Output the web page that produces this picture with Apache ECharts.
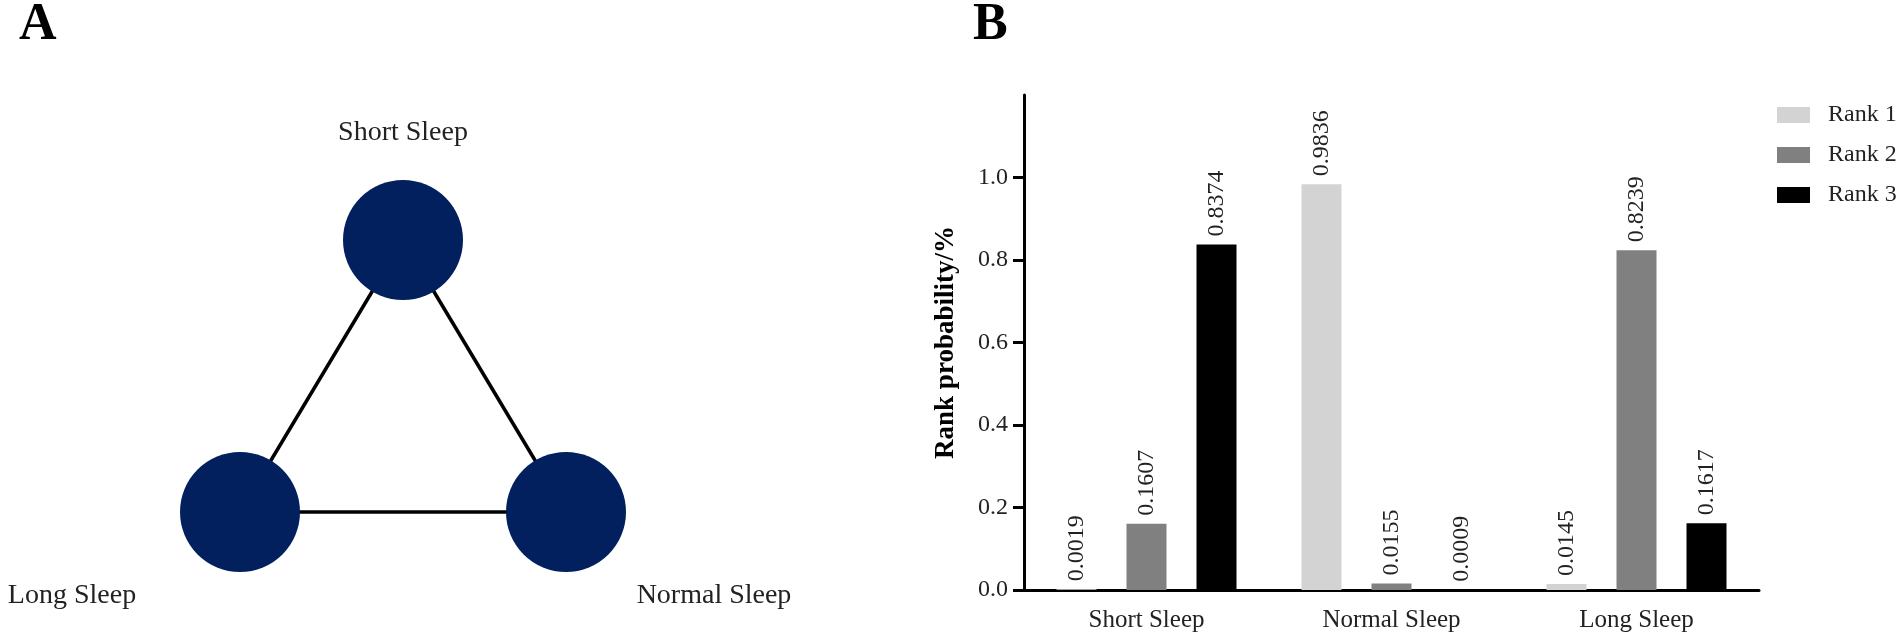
<!DOCTYPE html>
<html lang="en">
<head>
<meta charset="UTF-8">
<title>Rank probability</title>
<script src="https://cdn.jsdelivr.net/npm/echarts@6/dist/echarts.min.js"></script>
<style>
    html, body { margin: 0; padding: 0; background: #fff; }
    #chart { width: 1901px; height: 644px; }
</style>
</head>
<body>
<div id="chart"></div>
<script>
// panel A: network nodes (abstract layout units) and edges
const nodeNames = ['Short Sleep', 'Long Sleep', 'Normal Sleep'];
const nodeX = [1, 0, 2];
const nodeY = [1, 0, 0];
const edges = [[0, 1], [0, 2], [1, 2]];

// panel B: rank probabilities
const categories = ['Short Sleep', 'Normal Sleep', 'Long Sleep'];
const rankNames = ['Rank 1', 'Rank 2', 'Rank 3'];
const rank1 = [0.0019, 0.9836, 0.0145];
const rank2 = [0.1607, 0.0155, 0.8239];
const rank3 = [0.8374, 0.0009, 0.1617];
const yTicks = [0, 0.2, 0.4, 0.6, 0.8, 1.0];

const font = 'Liberation Serif';
const ink = '#222';
const rankColors = ['#d3d3d3', '#808080', '#000000'];

// label placement per node
const nodeLabels = [
    { position: 'top', distance: 33 },
    { position: 'inside', offset: [-168, 84] },
    { position: 'inside', offset: [148, 84] }
];

var chart = echarts.init(document.getElementById('chart'));

var barSeries = [rank1, rank2, rank3].map(function (vals, i) {
    return {
        name: rankNames[i],
        type: 'bar',
        xAxisIndex: 1,
        yAxisIndex: 1,
        data: vals,
        barWidth: 40,
        barGap: '75%',
        itemStyle: { color: rankColors[i] },
        label: {
            show: true,
            position: 'top',
            rotate: 90,
            align: 'left',
            verticalAlign: 'middle',
            distance: 8,
            fontFamily: font,
            fontSize: 24,
            color: ink,
            formatter: function (p) { return p.value.toFixed(4); }
        }
    };
});

var option = {
    animation: false,
    backgroundColor: '#fff',
    title: [
        { text: 'A', left: 19, top: 0, padding: 0,
          textStyle: { fontFamily: font, fontSize: 52, fontWeight: 'bold', color: '#000' } },
        { text: 'B', left: 973, top: 0, padding: 0,
          textStyle: { fontFamily: font, fontSize: 52, fontWeight: 'bold', color: '#000' } }
    ],
    legend: {
        data: rankNames,
        orient: 'vertical',
        left: 1772,
        top: 98,
        icon: 'rect',
        itemWidth: 33,
        itemHeight: 16,
        itemGap: 16,
        textStyle: { fontFamily: font, fontSize: 24, color: ink, padding: [0, 0, 0, 13] }
    },
    grid: [
        { left: 240, top: 240, width: 326, height: 272 },
        { left: 1024, top: 95, width: 735, bottom: 54 }
    ],
    xAxis: [
        { gridIndex: 0, type: 'value', min: 0, max: 2, show: false },
        {
            gridIndex: 1,
            type: 'category',
            data: categories,
            axisLine: { lineStyle: { color: '#000', width: 3 } },
            axisTick: { alignWithLabel: true, length: 11, lineStyle: { color: '#000', width: 2.5 } },
            axisLabel: { fontFamily: font, fontSize: 25, color: ink, margin: 18 }
        }
    ],
    yAxis: [
        { gridIndex: 0, type: 'value', min: 0, max: 1, show: false },
        {
            gridIndex: 1,
            type: 'value',
            min: 0,
            max: 1.2,
            interval: 0.2,
            name: 'Rank probability/%',
            nameLocation: 'middle',
            nameGap: 64,
            nameTextStyle: { fontFamily: font, fontSize: 27, fontWeight: 'bold', color: '#000' },
            splitLine: { show: false },
            axisLine: { show: true, lineStyle: { color: '#000', width: 3 } },
            axisTick: { show: true, length: 11, customValues: yTicks, lineStyle: { color: '#000', width: 3 } },
            axisLabel: {
                fontFamily: font, fontSize: 24, color: ink, margin: 16,
                customValues: yTicks,
                formatter: function (v) { return v.toFixed(1); }
            }
        }
    ],
    series: [
        {
            type: 'graph',
            coordinateSystem: 'cartesian2d',
            xAxisIndex: 0,
            yAxisIndex: 0,
            symbol: 'circle',
            symbolSize: 120,
            itemStyle: { color: '#02205e' },
            label: { show: true, fontFamily: font, fontSize: 28, color: ink },
            lineStyle: { color: '#000', width: 3.5, opacity: 1 },
            emphasis: { disabled: true },
            data: nodeNames.map(function (n, i) {
                return { name: n, value: [nodeX[i], nodeY[i]], label: nodeLabels[i] };
            }),
            links: edges.map(function (e) { return { source: e[0], target: e[1] }; })
        }
    ].concat(barSeries)
};
chart.setOption(option);
</script>
</body>
</html>
